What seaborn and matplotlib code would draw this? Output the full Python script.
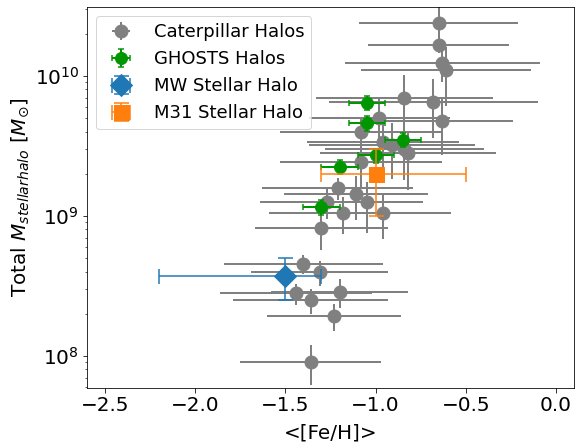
import matplotlib
matplotlib.use("Agg")
import matplotlib.pyplot as plt
import numpy as np
import seaborn as sns

# Caterpillar simulated halos: mean metallicity, its spread, stellar halo mass and fractional mass error
cat_feh = [-0.65, -0.65, -0.63, -0.61, -0.84, -0.68, -0.63, -0.98, -1.08, -0.96,
           -0.91, -0.84, -0.82, -1.08, -1.21, -1.11, -1.05, -1.27, -1.18, -0.96,
           -1.30, -1.40, -1.31, -1.44, -1.20, -1.36, -1.23, -1.36]
cat_feh_err = [0.44, 0.39, 0.54, 0.47, 0.49, 0.58, 0.39, 0.39, 0.45, 0.42,
               0.46, 0.44, 0.49, 0.45, 0.42, 0.40, 0.31, 0.37, 0.41, 0.38,
               0.37, 0.44, 0.38, 0.42, 0.38, 0.43, 0.37, 0.39]
cat_mass = [2.4e10, 1.65e10, 1.24e10, 1.1e10, 7.0e9, 6.5e9, 4.75e9, 5.0e9, 3.95e9, 3.35e9,
            3.2e9, 3.0e9, 2.8e9, 2.43e9, 1.58e9, 1.43e9, 1.25e9, 1.26e9, 1.05e9, 1.05e9,
            8.2e8, 4.55e8, 3.95e8, 2.8e8, 2.88e8, 2.5e8, 1.94e8, 9.1e7]
cat_mass_frac = [0.30, 0.12, 0.27, 0.45, 0.45, 0.45, 0.43, 0.38, 0.25, 0.40,
                 0.43, 0.40, 0.45, 0.35, 0.18, 0.35, 0.40, 0.25, 0.29, 0.35,
                 0.30, 0.15, 0.20, 0.17, 0.24, 0.20, 0.22, 0.32]

# GHOSTS observed halos
ghosts_feh = [-1.05, -1.05, -0.85, -1.0, -1.2, -1.3]
ghosts_feh_err = [0.1, 0.1, 0.1, 0.1, 0.1, 0.1]
ghosts_mass = [6.45e9, 4.6e9, 3.5e9, 2.7e9, 2.25e9, 1.16e9]
ghosts_mass_frac = [0.12, 0.12, 0.12, 0.12, 0.12, 0.12]

# Milky Way stellar halo
mw_feh, mw_feh_lo, mw_feh_hi = -1.5, 0.7, 0.2
mw_mass, mw_mass_lo, mw_mass_hi = 3.7e8, 1.2e8, 1.3e8

# M31 stellar halo
m31_feh, m31_feh_lo, m31_feh_hi = -1.0, 0.3, 0.5
m31_mass, m31_mass_lo, m31_mass_hi = 2.0e9, 1.0e9, 1.0e9

sns.set_style("ticks")
plt.rcParams.update({
    "font.family": ["DejaVu Sans"],
    "axes.edgecolor": "black",
    "axes.labelcolor": "black",
    "text.color": "black",
    "xtick.color": "black",
    "ytick.color": "black",
    "axes.linewidth": 0.8,
    "xtick.major.size": 4.5,
    "ytick.major.size": 4.5,
    "ytick.minor.size": 2.5,
    "xtick.major.width": 0.8,
    "ytick.major.width": 0.8,
    "ytick.minor.width": 0.6,
    "legend.edgecolor": "0.8",
})

fig = plt.figure(figsize=(575 / 72, 444 / 72), dpi=72)
ax = fig.add_axes([0.1513, 0.1261, 0.847, 0.858])

cat_mass_arr = np.array(cat_mass)
cat_yerr = cat_mass_arr * np.array(cat_mass_frac)
ax.errorbar(cat_feh, cat_mass, xerr=cat_feh_err, yerr=cat_yerr,
            fmt="o", color="gray", ms=13, elinewidth=2, capsize=0,
            label="Caterpillar Halos", zorder=2)

ghosts_mass_arr = np.array(ghosts_mass)
ax.errorbar(ghosts_feh, ghosts_mass, xerr=ghosts_feh_err,
            yerr=ghosts_mass_arr * np.array(ghosts_mass_frac),
            fmt="o", color="#009600", ms=12, elinewidth=2, capsize=3, capthick=1.5,
            label="GHOSTS Halos", zorder=3)

ax.errorbar([mw_feh], [mw_mass], xerr=[[mw_feh_lo], [mw_feh_hi]],
            yerr=[[mw_mass_lo], [mw_mass_hi]],
            fmt="D", color="#1f77b4", ms=15, elinewidth=1.5, capsize=7.5, capthick=1.5,
            label="MW Stellar Halo", zorder=4)

ax.errorbar([m31_feh], [m31_mass], xerr=[[m31_feh_lo], [m31_feh_hi]],
            yerr=[[m31_mass_lo], [m31_mass_hi]],
            fmt="s", color="#ff7f0e", ms=15, elinewidth=1.5, capsize=7.5, capthick=1.5,
            label="M31 Stellar Halo", zorder=4)

ax.set_yscale("log")
ax.set_xlim(-2.6, 0.1)
ax.set_ylim(5.9e7, 3.1e10)
ax.set_xticks([-2.5, -2.0, -1.5, -1.0, -0.5, 0.0])
ax.tick_params(axis="both", which="major", labelsize=20)

ax.set_xlabel("<[Fe/H]>", fontsize=20, labelpad=8)
ax.set_ylabel(r"Total $M_{stellar halo}$ [$M_{\odot}$]", fontsize=20)

ax.legend(loc="upper left", fontsize=18, frameon=True, fancybox=True, framealpha=0.8)

fig.savefig("out.png", dpi=72)
